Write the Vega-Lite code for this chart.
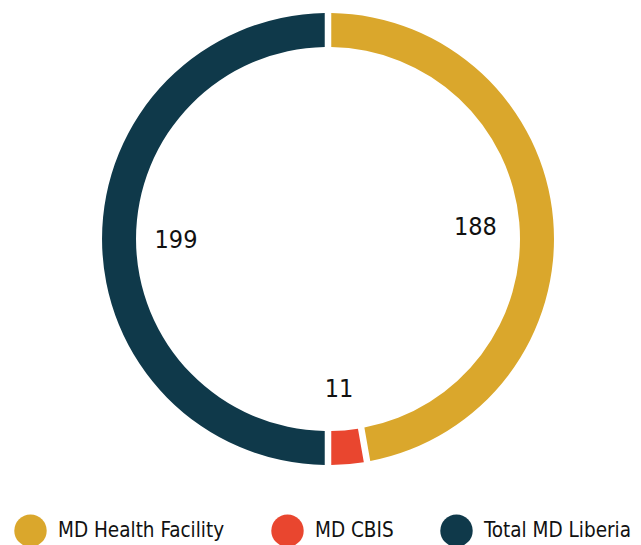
{
  "$schema": "https://vega.github.io/schema/vega-lite/v6.json",
  "autosize": {"type": "none"},
  "padding": {"top": 0, "left": 0, "right": 0, "bottom": 67},
  "width": 656,
  "height": 478,
  "background": "white",
  "data": {
    "values": [
      {"category": "MD Health Facility", "value": 188, "rank": 1},
      {"category": "MD CBIS", "value": 11, "rank": 2},
      {"category": "Total MD Liberia", "value": 199, "rank": 3}
    ]
  },
  "encoding": {
    "theta": {"field": "value", "type": "quantitative", "stack": true},
    "order": {"field": "rank", "type": "quantitative"}
  },
  "layer": [
    {
      "mark": {"type": "arc", "radius": 226, "radius2": 192, "padAngle": 0.022},
      "encoding": {
        "color": {
          "field": "category",
          "type": "nominal",
          "scale": {
            "domain": ["MD Health Facility", "MD CBIS", "Total MD Liberia"],
            "range": ["#DAA72C", "#E9462F", "#0F394A"]
          },
          "legend": {
            "title": null,
            "orient": "none",
            "direction": "horizontal",
            "legendX": 14,
            "legendY": 514,
            "symbolType": "circle",
            "symbolSize": 1050,
            "symbolStrokeWidth": 0,
            "symbolOpacity": 1,
            "labelFont": "DejaVu Sans Condensed, Open Sans",
            "labelFontSize": 20.5,
            "labelColor": "#111111",
            "labelOffset": 11,
            "columnPadding": 46,
            "labelLimit": 300
          }
        }
      }
    },
    {
      "mark": {"type": "text", "radius": 150, "dx": -2, "dy": 1, "font": "DejaVu Sans Condensed, Open Sans", "fontSize": 25, "color": "#111111"},
      "encoding": {
        "text": {"field": "value", "type": "quantitative"}
      }
    }
  ]
}
